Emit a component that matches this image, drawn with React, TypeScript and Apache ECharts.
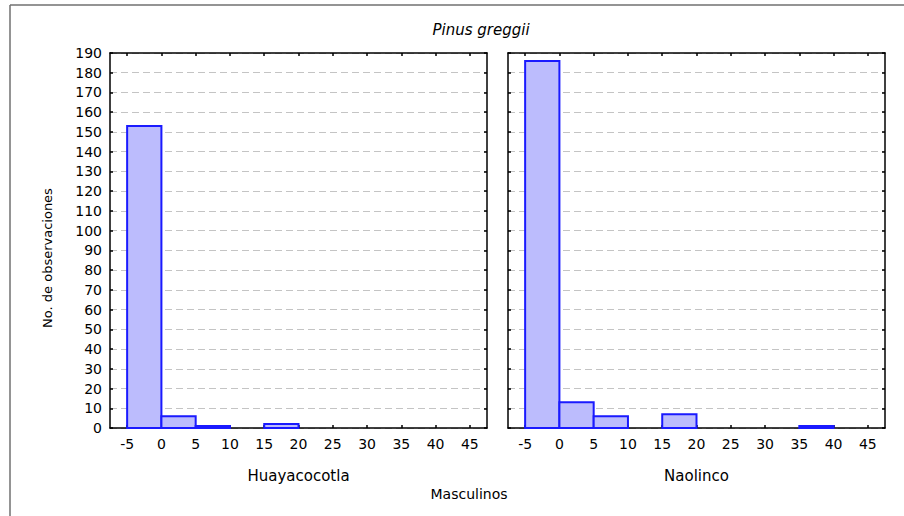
import React, { useEffect, useRef } from "react";
import * as echarts from "echarts";

const titleText = "Pinus greggii";
const yAxisTitle = "No. de observaciones";
const xAxisTitle = "Masculinos";
const panelNames = ["Huayacocotla", "Naolinco"];
const xTicks = [-5, 0, 5, 10, 15, 20, 25, 30, 35, 40, 45];
const binStarts = [-5, 0, 5, 10, 15, 20, 25, 30, 35, 40];
const binWidth = 5;
const huayacocotlaCounts = [153, 6, 1, 0, 2, 0, 0, 0, 0, 0];
const naolincoCounts = [186, 13, 6, 0, 7, 0, 0, 0, 1, 0];
const yMin = 0;
const yMax = 190;
const yStep = 10;
const xMin = -7.5;
const xMax = 47.5;

const FONT = "DejaVu Sans";

export default function App() {
  const ref = useRef<HTMLDivElement>(null);
  useEffect(() => {
    if (!ref.current) return;
    const chart = echarts.init(ref.current, null, { renderer: "svg" });
    const grids = [
      { left: 110, top: 53, width: 377, height: 375 },
      { left: 508, top: 53, width: 377, height: 375 },
    ];
    const seriesCounts = [huayacocotlaCounts, naolincoCounts];
    const xAxes: any[] = [];
    const yAxes: any[] = [];
    const series: any[] = [];
    grids.forEach((g, i) => {
      const baseX = {
        type: "value",
        gridIndex: i,
        min: xMin,
        max: xMax,
        axisLine: { show: true, onZero: false, lineStyle: { color: "#000", width: 1.5 } },
        axisTick: { show: true, inside: true, length: 3, customValues: xTicks, lineStyle: { color: "#000", width: 1.5 } },
        splitLine: { show: false },
      };
      xAxes.push({
        ...baseX,
        position: "bottom",
        axisLabel: { show: true, customValues: xTicks, fontFamily: FONT, fontSize: 14, color: "#000", margin: 9 },
      });
      xAxes.push({ ...baseX, position: "top", axisLabel: { show: false } });
      const baseY = {
        type: "value",
        gridIndex: i,
        min: yMin,
        max: yMax,
        interval: yStep,
        axisLine: { show: true, onZero: false, lineStyle: { color: "#000", width: 1.5 } },
        axisTick: { show: true, inside: true, length: 3, lineStyle: { color: "#000", width: 1.5 } },
      };
      yAxes.push({
        ...baseY,
        position: "left",
        axisLabel: { show: i === 0, fontFamily: FONT, fontSize: 14, color: "#000", margin: 8 },
        splitLine: { show: true, lineStyle: { color: "#c4c4c4", type: [7, 4], width: 1 } },
      });
      yAxes.push({ ...baseY, position: "right", axisLabel: { show: false }, splitLine: { show: false } });
      const data = binStarts.map((s, k) => [s, s + binWidth, seriesCounts[i][k]]);
      series.push({
        type: "custom",
        xAxisIndex: i * 2,
        yAxisIndex: i * 2,
        data,
        encode: { x: [0, 1], y: 2 },
        renderItem: (params: any, api: any) => {
          const v = api.value(2);
          if (!v) return null;
          const p0 = api.coord([api.value(0), v]);
          const p1 = api.coord([api.value(1), 0]);
          return {
            type: "rect",
            shape: { x: p0[0], y: p0[1], width: p1[0] - p0[0], height: p1[1] - p0[1] },
            style: { fill: "#bcbcfd", stroke: "#1a1aff", lineWidth: 2 },
          };
        },
      });
    });
    chart.setOption({
      animation: false,
      backgroundColor: "#ffffff",
      grid: grids,
      xAxis: xAxes,
      yAxis: yAxes,
      series,
      graphic: [
        { type: "line", shape: { x1: 10, y1: 5, x2: 904, y2: 5 }, style: { stroke: "#707070", lineWidth: 1.5 } },
        { type: "line", shape: { x1: 10, y1: 5, x2: 10, y2: 516 }, style: { stroke: "#707070", lineWidth: 1.5 } },
        {
          type: "text", x: 481, y: 30,
          style: { text: titleText, fontFamily: FONT, fontStyle: "italic", fontSize: 15, fill: "#000", align: "center", verticalAlign: "middle" },
        },
        {
          type: "text", x: 298.5, y: 476,
          style: { text: panelNames[0], fontFamily: FONT, fontSize: 15, fill: "#000", align: "center", verticalAlign: "middle" },
        },
        {
          type: "text", x: 696.5, y: 476,
          style: { text: panelNames[1], fontFamily: FONT, fontSize: 15, fill: "#000", align: "center", verticalAlign: "middle" },
        },
        {
          type: "text", x: 469, y: 494,
          style: { text: xAxisTitle, fontFamily: FONT, fontSize: 14, fill: "#000", align: "center", verticalAlign: "middle" },
        },
        {
          type: "text", x: 47, y: 258, rotation: Math.PI / 2,
          style: { text: yAxisTitle, fontFamily: FONT, fontSize: 13, fill: "#000", align: "center", verticalAlign: "middle" },
        },
      ],
    });
    return () => chart.dispose();
  }, []);
  return <div ref={ref} style={{ position: "fixed", left: 0, top: 0, width: 904, height: 516, background: "#fff" }} />;
}
